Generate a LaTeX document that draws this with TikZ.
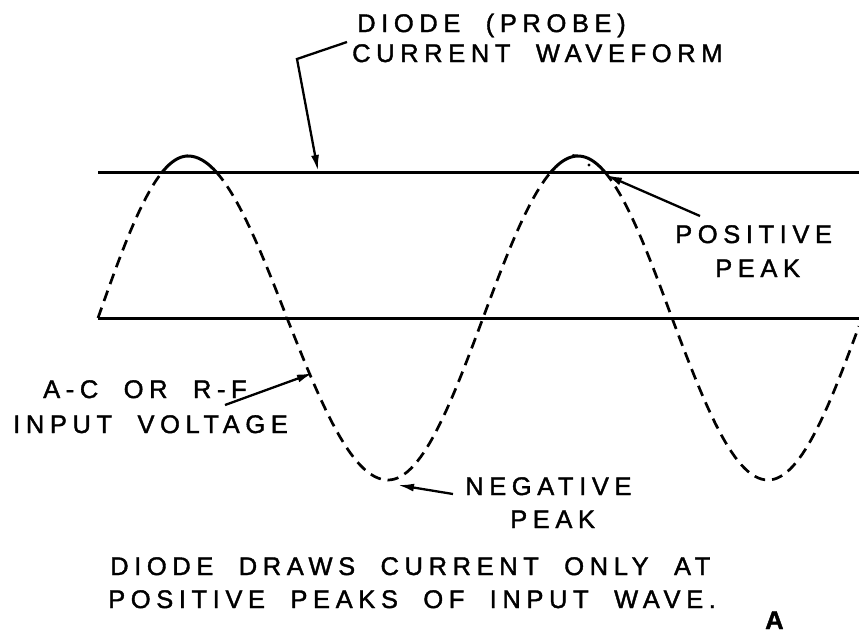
\documentclass[tikz,border=0pt]{standalone}
\usepackage{fontspec}
\setmainfont{Liberation Sans}[LetterSpace=22,WordSpace=2,FakeBold=1.5]
\usetikzlibrary{arrows.meta}
\begin{document}
\begin{tikzpicture}[x=1pt,y=-1pt,
  lbl/.style={inner sep=0pt, font=\fontsize{25.5}{27}\selectfont, anchor=base west},
  wire/.style={line width=3pt},
  wave/.style={line width=2.7pt, dash pattern=on 11pt off 7pt},
  ptr/.style={line width=2.3pt, -{Latex[length=16pt,width=8pt]}}]
\useasboundingbox (0,0) rectangle (859,633);
% base lines
\coordinate (topL) at (98,172); \coordinate (topR) at (859,172);
\coordinate (zeroL) at (98,318); \coordinate (zeroR) at (859,318);
\draw[wire] (topL) -- (topR);
\draw[wire] (zeroL) -- (zeroR);
% dashed input wave (quarter-period pieces)
\draw[wave] plot[domain=0:64.3, samples=25, variable=\t] ({98+\t}, {318-162*sin(\t)});
\draw[wave] plot[domain=115.7:180, samples=25, variable=\t] ({188+1.1*(\t-90)}, {318-162*sin(\t)})
  -- plot[domain=180:270, samples=30, variable=\t] ({287+1.1222*(\t-180)}, {318-162*sin(\t)})
  -- plot[domain=270:360, samples=30, variable=\t] ({388+1.0556*(\t-270)}, {318-162*sin(\t)})
  -- plot[domain=360:424.3, samples=25, variable=\t] ({483+1.0556*(\t-360)}, {318-162*sin(\t)});
\draw[wave] plot[domain=475.7:540, samples=25, variable=\t] ({578+1.0444*(\t-450)}, {318-162*sin(\t)})
  -- plot[domain=540:630, samples=30, variable=\t] ({672+1.0667*(\t-540)}, {318-162*sin(\t)})
  -- plot[domain=630:717.1, samples=30, variable=\t] ({768+1.0444*(\t-630)}, {318-162*sin(\t)});
% solid current humps
\draw[wire] plot[domain=64.3:90, samples=12, variable=\t] ({98+\t}, {318-162*sin(\t)})
  -- plot[domain=90:115.7, samples=12, variable=\t] ({188+1.1*(\t-90)}, {318-162*sin(\t)});
\draw[wire] plot[domain=424.3:450, samples=12, variable=\t] ({483+1.0556*(\t-360)}, {318-162*sin(\t)})
  -- plot[domain=450:475.7, samples=12, variable=\t] ({578+1.0444*(\t-450)}, {318-162*sin(\t)});
\fill (589,165) circle (1.6);
% labels
\node[lbl] (diode1) at (357,32) {DIODE (PROBE)};
\node[lbl] (diode2) at (352,62) {CURRENT WAVEFORM};
\node[lbl] (pos1) at (675,243) {POSITIVE};
\node[lbl] (pos2) at (715,277) {PEAK};
\node[lbl] (ac1) at (43,398) {A-C OR R-F};
\node[lbl] (ac2) at (13,433) {INPUT VOLTAGE};
\node[lbl] (neg1) at (465,495) {NEGATIVE};
\node[lbl] (neg2) at (510,528) {PEAK};
\node[lbl] (cap1) at (110,575) {DIODE DRAWS CURRENT ONLY AT};
\node[lbl] (cap2) at (108,608) {POSITIVE PEAKS OF INPUT WAVE.};
\node[lbl, font=\fontsize{25.5}{27}\selectfont\bfseries] (fig) at (765,629) {A};
% leaders
\coordinate (dtail) at (347,42); \coordinate (dbend) at (297,59); \coordinate (dtip) at (318,171);
\draw[ptr] (dtail) -- (dbend) -- (dtip);
\coordinate (ptail) at (700,216); \coordinate (ptip) at (606,175);
\draw[ptr] (ptail) -- (ptip);
\coordinate (atail) at (225,405); \coordinate (atip) at (313,373);
\draw[ptr] (atail) -- (atip);
\coordinate (ntail) at (453,494); \coordinate (ntip) at (398,485);
\draw[ptr] (ntail) -- (ntip);
\end{tikzpicture}
\end{document}
